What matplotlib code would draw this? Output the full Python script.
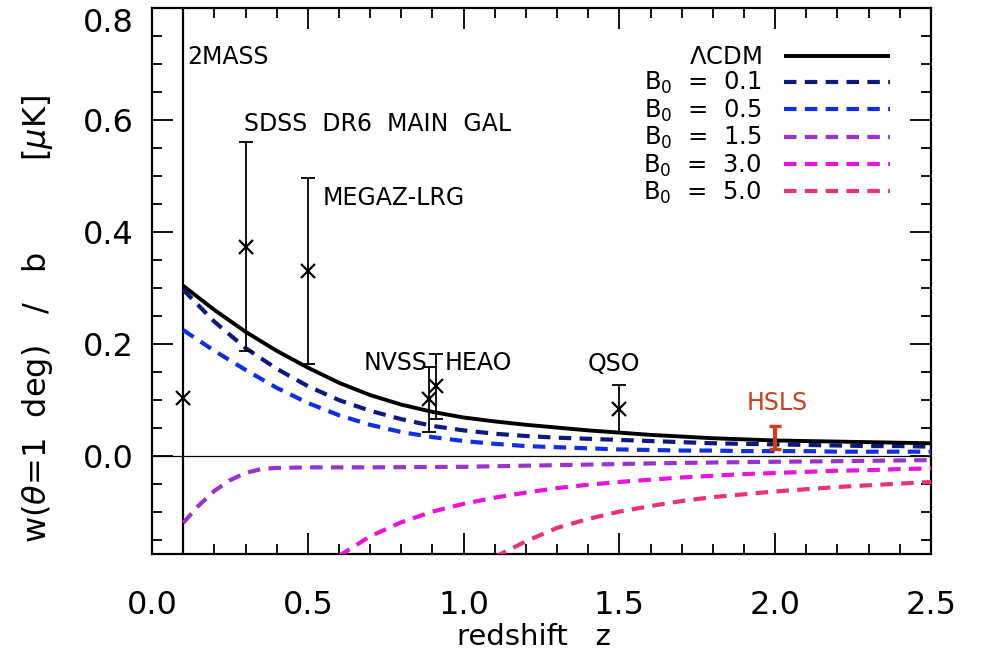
import numpy as np
import matplotlib
matplotlib.use("Agg")
import matplotlib.pyplot as plt
from matplotlib.ticker import MultipleLocator

plt.rcParams['font.family'] = ['DejaVu Sans']
plt.rcParams['mathtext.fontset'] = 'dejavusans'

# ---- model curves: w(theta=1 deg)/b versus redshift ----
z_lcdm = [0.1, 0.2, 0.3, 0.4, 0.5, 0.6, 0.7, 0.8, 0.9, 1.0, 1.1, 1.2, 1.3,
          1.4, 1.5, 1.6, 1.7, 1.8, 1.9, 2.0, 2.1, 2.2, 2.3, 2.4, 2.5]
w_lcdm = [0.304, 0.261, 0.222, 0.188, 0.158, 0.131, 0.109, 0.092, 0.079,
          0.069, 0.062, 0.056, 0.051, 0.046, 0.042, 0.038, 0.035, 0.032,
          0.030, 0.028, 0.027, 0.026, 0.025, 0.024, 0.023]

z_b01 = z_lcdm
w_b01 = [0.297, 0.240, 0.193, 0.156, 0.125, 0.100, 0.081, 0.066, 0.054,
         0.046, 0.040, 0.036, 0.033, 0.031, 0.029, 0.027, 0.025, 0.023,
         0.022, 0.021, 0.020, 0.019, 0.018, 0.018, 0.017]

z_b05 = z_lcdm
w_b05 = [0.225, 0.188, 0.154, 0.122, 0.095, 0.073, 0.056, 0.043, 0.034,
         0.027, 0.022, 0.018, 0.016, 0.014, 0.012, 0.011, 0.010, 0.010,
         0.009, 0.009, 0.009, 0.008, 0.008, 0.008, 0.008]

z_b15 = [0.1, 0.15, 0.2, 0.25, 0.3, 0.35, 0.4, 0.5, 0.7, 1.0, 1.3, 1.5,
         1.7, 2.0, 2.2, 2.5]
w_b15 = [-0.119, -0.088, -0.062, -0.043, -0.030, -0.023, -0.021, -0.020,
         -0.020, -0.019, -0.016, -0.014, -0.012, -0.010, -0.009, -0.007]

z_b30 = [0.6, 0.7, 0.8, 0.9, 1.0, 1.1, 1.2, 1.3, 1.4, 1.5, 1.6, 1.7, 1.8,
         1.9, 2.0, 2.1, 2.2, 2.3, 2.4, 2.5]
w_b30 = [-0.178, -0.143, -0.118, -0.099, -0.085, -0.074, -0.065, -0.057,
         -0.051, -0.046, -0.042, -0.038, -0.035, -0.032, -0.030, -0.028,
         -0.026, -0.025, -0.023, -0.022]

z_b50 = [1.1, 1.2, 1.3, 1.4, 1.5, 1.6, 1.7, 1.8, 1.9, 2.0, 2.1, 2.2, 2.3,
         2.4, 2.5]
w_b50 = [-0.180, -0.152, -0.128, -0.112, -0.099, -0.089, -0.080, -0.073,
         -0.068, -0.063, -0.059, -0.055, -0.052, -0.049, -0.046]

model_labels = [r'B$_0$  =  0.1', r'B$_0$  =  0.5', r'B$_0$  =  1.5',
                r'B$_0$  =  3.0', r'B$_0$  =  5.0']
model_colors = ['#0d1a7a', '#1030e0', '#9933cc', '#e814d8', '#e8327a']

# ---- measurements ----
survey_names = ['2MASS', 'SDSS  DR6  MAIN  GAL', 'MEGAZ-LRG', 'NVSS', 'HEAO', 'QSO']
survey_z = [0.1, 0.3, 0.5, 0.89, 0.91, 1.5]
survey_w = [0.103, 0.374, 0.330, 0.102, 0.125, 0.085]
survey_err = [0.0, 0.187, 0.166, 0.058, 0.058, 0.042]

hsls_z = 2.0
hsls_w = 0.033
hsls_err = 0.020
hsls_color = '#c8401e'

fig = plt.figure(figsize=(9.81, 6.59), dpi=100)
ax = fig.add_axes([0.155, 0.159, 0.794, 0.829])

ax.axvline(0.1, color='black', lw=1.6, zorder=2)
ax.axhline(0.0, color='black', lw=0.9, zorder=2)

dash = (3.0, 2.0)
curves = [(z_b01, w_b01), (z_b05, w_b05), (z_b15, w_b15),
          (z_b30, w_b30), (z_b50, w_b50)]
handles = []
for (zz, ww), lab, col in zip(curves, model_labels, model_colors):
    h, = ax.plot(zz, ww, color=col, lw=3.0, dashes=dash, label=lab, zorder=3)
    handles.append(h)
h_lcdm, = ax.plot(z_lcdm, w_lcdm, color='black', lw=2.8, label=r'$\Lambda$CDM',
                  zorder=4, solid_capstyle='butt', solid_joinstyle='round')

# data points with error bars
zs = np.array(survey_z)
ws = np.array(survey_w)
es = np.array(survey_err)
has_err = es > 0
ax.errorbar(zs[has_err], ws[has_err], yerr=es[has_err], fmt='none',
            ecolor='black', elinewidth=1.3, capsize=5, capthick=1.3, zorder=5)
ax.plot(zs, ws, 'x', color='black', ms=10, mew=1.6, zorder=6)

ax.errorbar([hsls_z], [hsls_w], yerr=[hsls_err], fmt='none',
            ecolor=hsls_color, elinewidth=3.0, capsize=4, capthick=2.5, zorder=6)

# survey labels
fs_ann = 17
ax.text(0.112, 0.712, survey_names[0], fontsize=fs_ann, va='center', ha='left')
ax.text(0.295, 0.593, survey_names[1], fontsize=fs_ann, va='center', ha='left')
ax.text(0.546, 0.461, survey_names[2], fontsize=fs_ann, va='center', ha='left')
ax.text(0.883, 0.166, survey_names[3], fontsize=fs_ann, va='center', ha='right')
ax.text(0.94, 0.166, survey_names[4], fontsize=fs_ann, va='center', ha='left')
ax.text(1.483, 0.165, survey_names[5], fontsize=fs_ann, va='center', ha='center')
ax.text(2.005, 0.095, 'HSLS', fontsize=fs_ann, va='center', ha='center',
        color=hsls_color)

leg = ax.legend([h_lcdm] + handles, [r'$\Lambda$CDM'] + model_labels,
                loc='upper right', bbox_to_anchor=(0.948, 0.932),
                frameon=False, markerfirst=False, fontsize=17.5,
                handlelength=4.4, handletextpad=0.9, labelspacing=0.05,
                borderpad=0.0, borderaxespad=0.0)

ax.set_xlim(0.0, 2.5)
ax.set_ylim(-0.175, 0.8)
ax.xaxis.set_major_locator(MultipleLocator(0.5))
ax.xaxis.set_minor_locator(MultipleLocator(0.1))
ax.yaxis.set_major_locator(MultipleLocator(0.2))
ax.yaxis.set_minor_locator(MultipleLocator(0.05))
ax.tick_params(which='both', direction='in', top=True, right=True, width=1.3)
ax.tick_params(which='major', length=15, labelsize=23)
ax.tick_params(which='minor', length=7)
ax.tick_params(axis='x', which='major', pad=26)
ax.tick_params(axis='y', which='major', pad=13)
for s in ax.spines.values():
    s.set_linewidth(1.6)

ax.set_xlabel('redshift   z', fontsize=21)
ax.xaxis.set_label_coords(0.49, -0.125)
ax.set_ylabel(r'w($\theta$=1  deg)   /   b         [$\mu$K]', fontsize=23)
ax.yaxis.set_label_coords(-0.125, 0.43)

# keep the topmost y tick label inside the figure
fig.canvas.draw()
for tick in ax.yaxis.get_major_ticks():
    if abs(tick.get_loc() - 0.8) < 1e-9:
        tick.label1.set_verticalalignment('top')

fig.savefig('out.png', dpi=100)
